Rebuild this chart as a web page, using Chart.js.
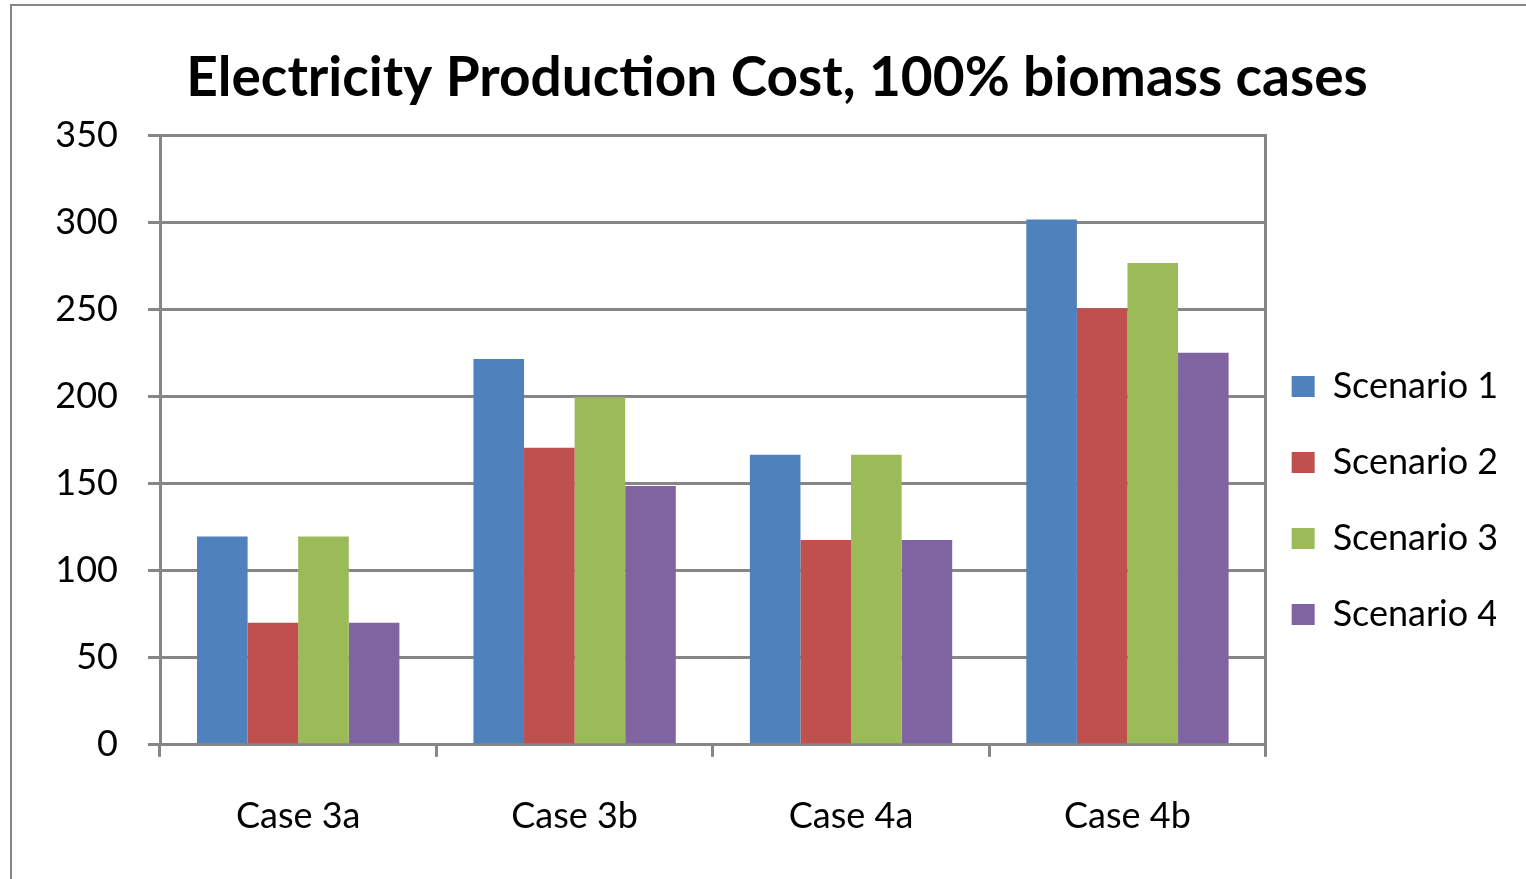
<!DOCTYPE html>
<html>
<head>
<meta charset="utf-8">
<script src="https://cdn.jsdelivr.net/npm/chart.js@4"></script>
<style>
  html, body { margin: 0; padding: 0; background: #fff; overflow: hidden; }
  #wrap { position: relative; width: 1526px; height: 879px; }
  #frame { position: absolute; left: 10px; top: 4px; width: 1530px; height: 890px;
           border: 2px solid #878787; pointer-events: none; }
</style>
</head>
<body>
<div id="wrap">
  <canvas id="chart" width="1526" height="879"></canvas>
  <div id="frame"></div>
</div>
<script>
const categories = ['Case 3a', 'Case 3b', 'Case 4a', 'Case 4b'];
const scenario1 = [119.5, 221.5, 166.5, 301.5];
const scenario2 = [70, 170.5, 117.5, 250.5];
const scenario3 = [119.5, 199.5, 166.5, 276.5];
const scenario4 = [70, 148.5, 117.5, 225];
const yTicks = [0, 50, 100, 150, 200, 250, 300, 350];

const gridGray = '#868686';
const font = 'Lato, "Liberation Sans", sans-serif';
const padLeft = 44;

const ds = (label, data, color) => ({
  label, data,
  backgroundColor: color,
  borderWidth: 0,
  barPercentage: 1,
  categoryPercentage: 0.732
});

// nudge the legend to where the original sits (lower and a bit left)
const legendShift = {
  id: 'legendShift',
  afterLayout(chart) {
    const lg = chart.legend;
    lg.top += 40; lg.bottom += 40;
    lg.left -= 14; lg.right -= 14;
  }
};

new Chart(document.getElementById('chart').getContext('2d'), {
  type: 'bar',
  data: {
    labels: categories,
    datasets: [
      ds('Scenario 1', scenario1, '#4F81BD'),
      ds('Scenario 2', scenario2, '#C0504D'),
      ds('Scenario 3', scenario3, '#9BBB59'),
      ds('Scenario 4', scenario4, '#8064A2')
    ]
  },
  plugins: [legendShift],
  options: {
    responsive: false,
    animation: false,
    layout: { padding: { left: padLeft, right: 16, top: 45, bottom: 3 } },
    scales: {
      x: {
        grid: { drawOnChartArea: false, drawTicks: true, tickLength: 12, color: gridGray, lineWidth: 3 },
        border: { display: true, color: gridGray, width: 3 },
        ticks: { color: '#000', padding: 38, font: { family: font, size: 36 } }
      },
      y: {
        min: 0, max: 350,
        afterBuildTicks: (s) => { s.ticks = yTicks.map(v => ({ value: v })); },
        afterFit: (s) => { s.width = 160 - padLeft; },
        grid: { color: gridGray, lineWidth: 3, tickLength: 12 },
        border: { display: true, color: gridGray, width: 3 },
        ticks: { color: '#000', padding: 30, font: { family: font, size: 36 } }
      },
      y2: {
        position: 'right',
        min: 0, max: 350,
        grid: { drawOnChartArea: false, drawTicks: false },
        border: { display: true, color: gridGray, width: 3 },
        ticks: { display: false },
        afterFit: (s) => { s.width = 0; }
      }
    },
    plugins: {
      title: {
        display: true,
        text: 'Electricity Production Cost, 100% biomass cases',
        color: '#000',
        font: { family: font, size: 55, weight: 'bold' },
        padding: { top: 0, bottom: 24 }
      },
      legend: {
        position: 'right',
        labels: {
          color: '#000',
          boxWidth: 23, boxHeight: 21,
          padding: 40,
          font: { family: font, size: 36 }
        }
      },
      tooltip: { enabled: false }
    }
  }
});
</script>
</body>
</html>
